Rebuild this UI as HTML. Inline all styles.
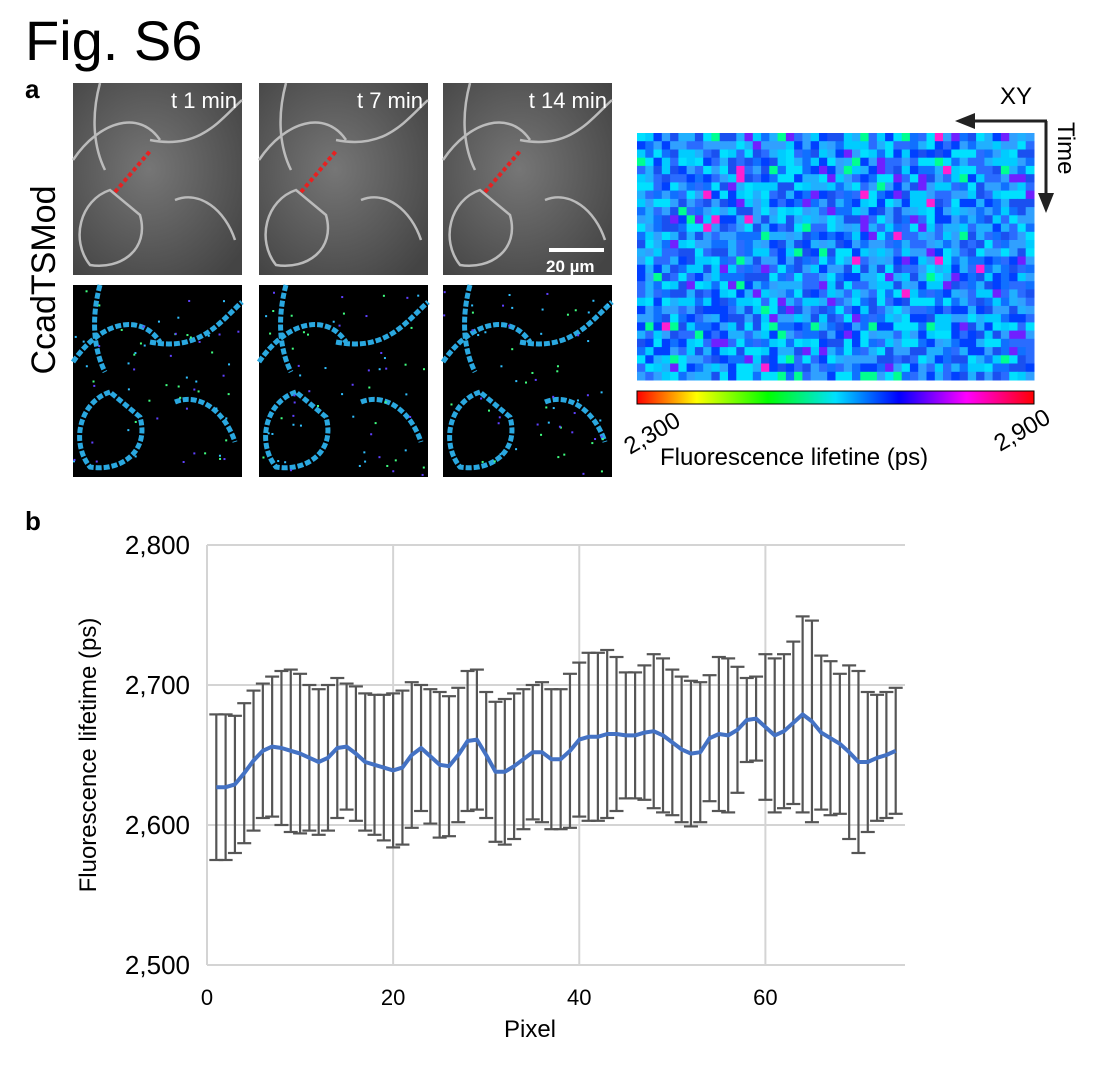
<!DOCTYPE html>
<html><head><meta charset="utf-8">
<style>
body{margin:0;background:#fff;width:1116px;height:1076px;overflow:hidden;font-family:"Liberation Sans",Arial,sans-serif;}
svg{position:absolute;left:0;top:0}
</style></head>
<body>
<svg id="fig" width="1116" height="1076" viewBox="0 0 1116 1076" xmlns="http://www.w3.org/2000/svg">
<defs>
<radialGradient id="gcell" cx="45%" cy="45%" r="70%"><stop offset="0" stop-color="#767676"/><stop offset="1" stop-color="#444"/></radialGradient>
<linearGradient id="cbar" x1="0" x2="1">
<stop offset="0" stop-color="#ff0000"/><stop offset="0.15" stop-color="#ffff00"/><stop offset="0.33" stop-color="#00ff00"/>
<stop offset="0.5" stop-color="#00e0ff"/><stop offset="0.66" stop-color="#0000ff"/><stop offset="0.83" stop-color="#ff00ff"/><stop offset="1" stop-color="#ff0000"/>
</linearGradient>
</defs>
<text x="25" y="60" font-size="56">Fig. S6</text>
<text x="25" y="98" font-size="26" font-weight="bold">a</text>
<text x="25" y="530" font-size="26" font-weight="bold">b</text>
<text transform="translate(55,280) rotate(-90)" text-anchor="middle" font-size="34">CcadTSMod</text>
<g id="imgs"></g>
<g id="heat"></g>
<rect x="637" y="391" width="397" height="13" fill="url(#cbar)" stroke="#000" stroke-width="1"/>
<text transform="translate(630,455) rotate(-30)" font-size="24">2,300</text>
<text transform="translate(1000,452) rotate(-30)" font-size="24">2,900</text>
<text x="660" y="465" font-size="24">Fluorescence lifetine (ps)</text>
<text x="1000" y="104" font-size="24">XY</text>
<g>
<line x1="1047" y1="121" x2="970" y2="121" stroke="#222" stroke-width="3"/>
<polygon points="955,121 975,113 975,129" fill="#222"/>
<line x1="1046" y1="121" x2="1046" y2="195" stroke="#222" stroke-width="3"/>
<polygon points="1046,213 1038,193 1054,193" fill="#222"/>
</g>
<text transform="translate(1058,122) rotate(90)" font-size="24">Time</text>
<g id="chart"></g>
</svg>
<script>
// ---- chart data ----
const pixels = [1,2,3,4,5,6,7,8,9,10,11,12,13,14,15,16,17,18,19,20,21,22,23,24,25,26,27,28,29,30,31,32,33,34,35,36,37,38,39,40,41,42,43,44,45,46,47,48,49,50,51,52,53,54,55,56,57,58,59,60,61,62,63,64,65,66,67,68,69,70,71,72,73,74];
const meanLifetime = [2627,2627,2629,2637,2646,2653,2656,2655,2653,2651,2648,2645,2648,2655,2656,2651,2645,2643,2641,2639,2641,2650,2655,2649,2643,2642,2650,2660,2661,2650,2638,2638,2642,2647,2652,2652,2647,2647,2653,2661,2663,2663,2665,2665,2664,2664,2666,2667,2664,2659,2654,2651,2652,2662,2665,2664,2668,2675,2676,2670,2664,2667,2673,2679,2674,2666,2662,2658,2652,2645,2645,2648,2650,2653];
const sdLifetime = [52,52,49,50,50,48,50,55,58,57,52,52,52,50,45,48,49,50,52,55,55,52,45,48,52,50,48,50,50,45,50,52,52,50,48,50,50,50,55,55,60,60,60,55,45,45,48,55,55,52,52,52,50,45,55,55,45,30,30,52,55,55,58,70,72,55,55,50,62,65,50,45,45,45];
const yTicks = [2500,2600,2700,2800];
const yTickLabels = ["2,500","2,600","2,700","2,800"];
const xTicks = [0,20,40,60];

const NS="http://www.w3.org/2000/svg";
function mk(tag,attrs,parent){const e=document.createElementNS(NS,tag);for(const k in attrs)e.setAttribute(k,attrs[k]);parent.appendChild(e);return e;}
const X0=207,X1=905,Y0=965,Y1=545;
const xs=v=>X0+(v-0)/75*(X1-X0);
const ys=v=>Y0-(v-2500)/300*(Y0-Y1);
const chart=document.getElementById('chart');


yTicks.forEach((t,i)=>{
  const l=mk('line',{x1:X0,x2:X1,y1:ys(t),y2:ys(t),stroke:'#d4d4d4','stroke-width':2},chart);
  
  
  const tx=mk('text',{x:190,y:ys(t)+9,'text-anchor':'end','font-size':26},chart);
  tx.textContent=yTickLabels[i];
  
  
});
xTicks.forEach(t=>{
  const l=mk('line',{x1:xs(t),x2:xs(t),y1:Y1,y2:Y0,stroke:'#d4d4d4','stroke-width':2},chart);
  
  
  const tx=mk('text',{x:xs(t),y:1005,'text-anchor':'middle','font-size':22},chart);
  tx.textContent=String(t);
  
  
});
pixels.forEach((p,i)=>{
  const x=xs(p),hi=ys(meanLifetime[i]+sdLifetime[i]),lo=ys(meanLifetime[i]-sdLifetime[i]);
  const g=mk('g',{stroke:'#555','stroke-width':2.2},chart);
  
  
  mk('line',{x1:x,x2:x,y1:hi,y2:lo},g);
  mk('line',{x1:x-7,x2:x+7,y1:hi,y2:hi},g);
  mk('line',{x1:x-7,x2:x+7,y1:lo,y2:lo},g);
});
let d='';pixels.forEach((p,i)=>{d+=(i?'L':'M')+xs(p).toFixed(1)+','+ys(meanLifetime[i]).toFixed(1);});
const ln=mk('path',{d:d,fill:'none',stroke:'#4472c4','stroke-width':4,'stroke-linejoin':'round'},chart);


const xt=mk('text',{x:530,y:1037,'text-anchor':'middle','font-size':24},chart);
xt.textContent='Pixel';


const yt=mk('text',{transform:'translate(96,755) rotate(-90)','text-anchor':'middle','font-size':24},chart);
yt.textContent='Fluorescence lifetime (ps)';



// ---- micrograph panels (decorative) ----
const imgs=document.getElementById('imgs');
const cols=[73,259,443],times=['t 1 min','t 7 min','t 14 min'];
let seed=7;function rnd(){seed=(seed*16807)%2147483647;return seed/2147483647;}
cols.forEach((cx,i)=>{
  const r=mk('rect',{x:cx,y:83,width:169,height:192,fill:'url(#gcell)'},imgs);
  
  
  const o=cx-73;
  const paths=['M'+(o+100)+',83 C'+(o+90)+',120 '+(o+95)+',150 '+(o+105)+',170','M'+(o+73)+',160 C'+(o+100)+',120 '+(o+140)+',110 '+(o+160)+',140','M'+(o+110)+',190 C'+(o+80)+',200 '+(o+70)+',240 '+(o+90)+',265 C'+(o+120)+',270 '+(o+150)+',250 '+(o+140)+',215 Z','M'+(o+175)+',200 C'+(o+200)+',190 '+(o+225)+',210 '+(o+235)+',240','M'+(o+150)+',140 C'+(o+200)+',150 '+(o+220)+',120 '+(o+242)+',100'];
  paths.forEach(pd=>mk('path',{d:pd,fill:'none',stroke:'#bbb','stroke-width':2.5},imgs));
  mk('line',{x1:cx+42,y1:192,x2:cx+78,y2:150,stroke:'#e82020','stroke-width':4,'stroke-dasharray':'4,3'},imgs);
  const t=mk('text',{x:cx+164,y:108,'text-anchor':'end','font-size':22,fill:'#fff'},imgs);
  t.textContent=times[i];
  
  
  const b=mk('rect',{x:cx,y:285,width:169,height:192,fill:'#000'},imgs);
  
  
  paths.forEach(pd=>{
    const p=pd.replace(/(\d+\.?\d*),(\d+\.?\d*)/g,(m,a,c)=>a+','+(parseFloat(c)+202));
    mk('path',{d:p,fill:'none',stroke:'#2aa8e0','stroke-width':5,'stroke-dasharray':'6,2'},imgs);
  });
  for(let k=0;k<60;k++){mk('rect',{x:cx+rnd()*165,y:290+rnd()*185,width:2,height:2,fill:['#30c0ff','#40ff80','#6040ff'][k%3]},imgs);}
});
mk('rect',{x:549,y:248,width:55,height:4,fill:'#fff'},imgs);
const sb=mk('text',{x:546,y:272,'font-size':17,'font-weight':'bold',fill:'#fff'},imgs);
sb.textContent='20 µm';



// ---- kymograph heatmap (decorative texture) ----
const heat=document.getElementById('heat');
const pal=['#00e0ff','#20b0ff','#1070ff','#0040ff','#00ccff','#2a6cff','#30a0ff','#1a50f0'];
const hc=48,hr=30,cw=397/hc,ch=247/hr;
for(let r=0;r<hr;r++)for(let c=0;c<hc;c++){
  let v=rnd();let col=v<0.012?'#ff20d0':v<0.05?'#7020ff':v<0.08?'#00ff90':pal[Math.floor(rnd()*pal.length)];
  mk('rect',{x:(637+c*cw).toFixed(1),y:(133+r*ch).toFixed(1),width:(cw+0.5).toFixed(1),height:(ch+0.5).toFixed(1),fill:col},heat);
}
</script>
</body></html>
